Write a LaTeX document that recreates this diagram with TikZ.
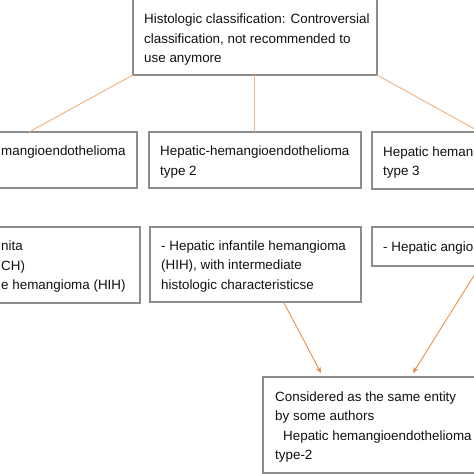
\documentclass[tikz,border=0pt]{standalone}
\usepackage{fontspec}
\setmainfont{Liberation Sans}
\usetikzlibrary{arrows.meta}
\definecolor{boxgray}{HTML}{8C8C8C}
\definecolor{linetan}{HTML}{F0B888}
\definecolor{arroworange}{HTML}{E8873F}
\definecolor{txtcol}{HTML}{111111}
\tikzset{
  box/.style={draw=boxgray, line width=1.1pt, rectangle, inner sep=0pt, outer sep=0pt, anchor=north west, fill=white},
  txt/.style={anchor=west, align=left, inner sep=0pt, text=txtcol, font=\fontsize{13.4}{19.5}\selectfont},
  conn/.style={draw=linetan, line width=1pt},
  arr/.style={draw=arroworange, line width=0.8pt, -{Stealth[length=6pt,width=5pt]}},
}
\begin{document}
\begin{tikzpicture}[x=1pt,y=-1pt]
\useasboundingbox (0,0) rectangle (474,474);
\clip (0,0) rectangle (474,474);
\fill[white] (0,0) rectangle (474,474);
% top
\node[box, minimum width=244pt, minimum height=78pt] (top) at (133,-3) {};
\node[txt] (ttop) at ([xshift=11pt,yshift=-4pt]top.west) {Histologic classification: Controversial\\classification, not recommended to\\use anymore};
% row 2
\node[box, minimum width=216pt, minimum height=56pt] (a1) at (-79,132) {};
\node[box, minimum width=212pt, minimum height=56pt] (a2) at (149,132) {};
\node[box, minimum width=216pt, minimum height=57pt] (a3) at (372,132) {};
\node[txt] (ta1) at ([yshift=8pt]a1.west -| 1,0) {mangioendothelioma};
\node[txt] (ta2) at ([xshift=11pt,yshift=-2pt]a2.west) {Hepatic-hemangioendothelioma\\type 2};
\node[txt] (ta3) at ([xshift=11pt,yshift=-2pt]a3.west) {Hepatic heman\\type 3};
% row 3
\node[box, minimum width=212pt, minimum height=76pt] (b1) at (-72,227) {};
\node[box, minimum width=211pt, minimum height=75pt] (b2) at (150,227) {};
\node[box, minimum width=216pt, minimum height=39pt] (b3) at (372,227) {};
\node[txt] (tb1) at ([yshift=-2pt]b1.west -| 1,0) {nita\\CH)\\e hemangioma (HIH)};
\node[txt] (tb2) at ([xshift=11pt,yshift=-2pt]b2.west) {- Hepatic infantile hemangioma\\(HIH), with intermediate\\histologic characteristicse};
\node[txt] (tb3) at ([xshift=11pt,yshift=-2pt]b3.west) {- Hepatic angio};
% bottom
\node[box, minimum width=250pt, minimum height=96pt] (c) at (263,377) {};
\node[txt] (tc) at ([xshift=12pt,yshift=-2pt]c.west) {Considered as the same entity\\by some authors\\\hspace*{8pt}Hepatic hemangioendothelioma\\type-2};
% connectors
\draw[conn] (top.south west) -- (a1.north);
\draw[conn] ([xshift=-0.5pt]top.south) -- ([xshift=-0.5pt]a2.north);
\draw[conn] (top.south east) -- (a3.north);
\coordinate (c1) at (321,373);
\coordinate (c2) at (413,373);
\draw[arr] ([xshift=28pt]b2.south) -- (c1);
\draw[arr] (b3.south) -- (c2);
\end{tikzpicture}
\end{document}
